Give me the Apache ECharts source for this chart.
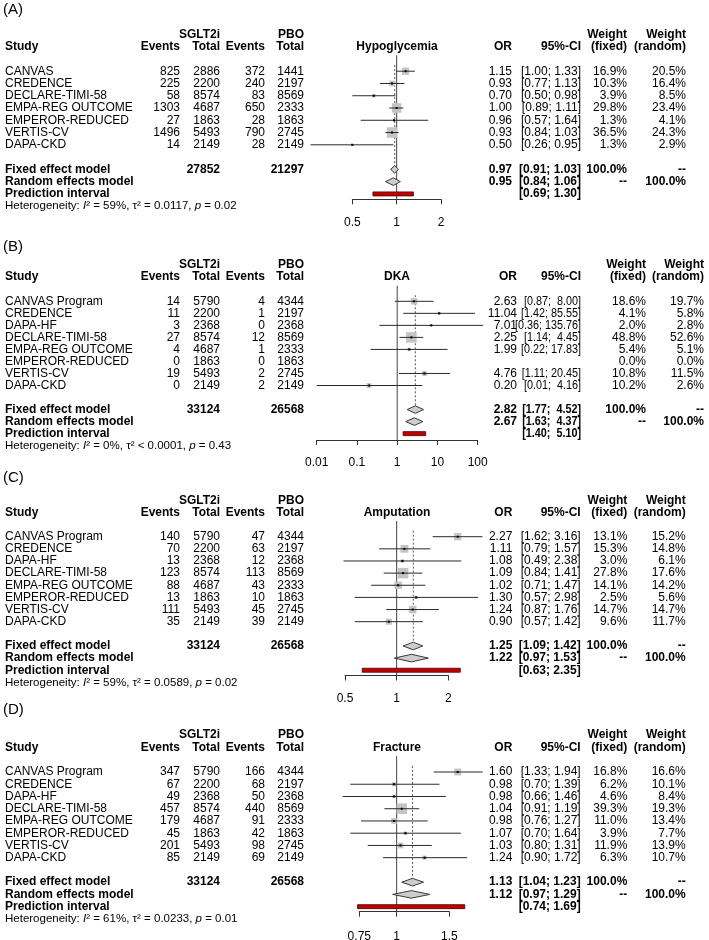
<!DOCTYPE html>
<html><head><meta charset="utf-8">
<script src="https://cdn.jsdelivr.net/npm/echarts@6/dist/echarts.min.js"></script>
<style>html,body{margin:0;padding:0;background:#fff}#c{width:709px;height:940px}</style>
</head><body><div id="c"></div>
<script>
// ---------------- DATA ----------------
// Panel A – Hypoglycemia
const studyA = ["CANVAS","CREDENCE","DECLARE-TIMI-58","EMPA-REG OUTCOME","EMPEROR-REDUCED","VERTIS-CV","DAPA-CKD"];
const evSA = [825,225,58,1303,27,1496,14];
const totSA = [2886,2200,8574,4687,1863,5493,2149];
const evPA = [372,240,83,650,28,790,28];
const totPA = [1441,2197,8569,2333,1863,2745,2149];
const orA = [1.15,0.93,0.70,1.00,0.96,0.93,0.50];
const loA = [1.00,0.77,0.50,0.89,0.57,0.84,0.26];
const hiA = [1.33,1.13,0.98,1.11,1.64,1.03,0.95];
const wfA = [16.9,10.3,3.9,29.8,1.3,36.5,1.3];
const wrA = [20.5,16.4,8.5,23.4,4.1,24.3,2.9];
const sumA = [27852,21297];
const fixA = [0.97,0.91,1.03];
const ranA = [0.95,0.84,1.06];
const predA = [0.69,1.30];
const hetA = ["59%","= 0.0117","0.02"];
const ticksA = [0.5,1,2];

// Shared for B, C, D
const studyBCD = ["CANVAS Program","CREDENCE","DAPA-HF","DECLARE-TIMI-58","EMPA-REG OUTCOME","EMPEROR-REDUCED","VERTIS-CV","DAPA-CKD"];
const totSBCD = [5790,2200,2368,8574,4687,1863,5493,2149];
const totPBCD = [4344,2197,2368,8569,2333,1863,2745,2149];
const sumBCD = [33124,26568];

// Panel B – DKA
const evSB = [14,11,3,27,4,0,19,0];
const evPB = [4,1,0,12,1,0,2,2];
const orB = [2.63,11.04,7.01,2.25,1.99,null,4.76,0.20];
const loB = [0.87,1.42,0.36,1.14,0.22,null,1.11,0.01];
const hiB = [8.00,85.55,135.76,4.45,17.83,null,20.45,4.16];
const wfB = [18.6,4.1,2.0,48.8,5.4,0.0,10.8,10.2];
const wrB = [19.7,5.8,2.8,52.6,5.1,0.0,11.5,2.6];
const fixB = [2.82,1.77,4.52];
const ranB = [2.67,1.63,4.37];
const predB = [1.40,5.10];
const hetB = ["0%","< 0.0001","0.43"];
const ticksB = [0.01,0.1,1,10,100];

// Panel C – Amputation
const evSC = [140,70,13,123,88,13,111,35];
const evPC = [47,63,12,113,43,10,45,39];
const orC = [2.27,1.11,1.08,1.09,1.02,1.30,1.24,0.90];
const loC = [1.62,0.79,0.49,0.84,0.71,0.57,0.87,0.57];
const hiC = [3.16,1.57,2.38,1.41,1.47,2.98,1.76,1.42];
const wfC = [13.1,15.3,3.0,27.8,14.1,2.5,14.7,9.6];
const wrC = [15.2,14.8,6.1,17.6,14.2,5.6,14.7,11.7];
const fixC = [1.25,1.09,1.42];
const ranC = [1.22,0.97,1.53];
const predC = [0.63,2.35];
const hetC = ["59%","= 0.0589","0.02"];
const ticksC = [0.5,1,2];

// Panel D – Fracture
const evSD = [347,67,49,457,179,45,201,85];
const evPD = [166,68,50,440,91,42,98,69];
const orD = [1.60,0.98,0.98,1.04,0.98,1.07,1.03,1.24];
const loD = [1.33,0.70,0.66,0.91,0.76,0.70,0.80,0.90];
const hiD = [1.94,1.39,1.46,1.19,1.27,1.64,1.31,1.72];
const wfD = [16.8,6.2,4.6,39.3,11.0,3.9,11.9,6.3];
const wrD = [16.6,10.1,8.4,19.3,13.4,7.7,13.9,10.7];
const fixD = [1.13,1.04,1.23];
const ranD = [1.12,0.97,1.29];
const predD = [0.74,1.69];
const hetD = ["61%","= 0.0233","0.01"];
const ticksD = [0.75,1,1.5];

const letters = ["(A)","(B)","(C)","(D)"];
const outcomes = ["Hypoglycemia","DKA","Amputation","Fracture"];
const refOR = 1;

// ---------------- ASSEMBLY ----------------
const panels = [
  {study:studyA, evS:evSA, totS:totSA, evP:evPA, totP:totPA, or:orA, lo:loA, hi:hiA, wf:wfA, wr:wrA, sum:sumA, fix:fixA, ran:ranA, pred:predA, het:hetA, ticks:ticksA},
  {study:studyBCD, evS:evSB, totS:totSBCD, evP:evPB, totP:totPBCD, or:orB, lo:loB, hi:hiB, wf:wfB, wr:wrB, sum:sumBCD, fix:fixB, ran:ranB, pred:predB, het:hetB, ticks:ticksB},
  {study:studyBCD, evS:evSC, totS:totSBCD, evP:evPC, totP:totPBCD, or:orC, lo:loC, hi:hiC, wf:wfC, wr:wrC, sum:sumBCD, fix:fixC, ran:ranC, pred:predC, het:hetC, ticks:ticksC},
  {study:studyBCD, evS:evSD, totS:totSBCD, evP:evPD, totP:totPBCD, or:orD, lo:loD, hi:hiD, wf:wfD, wr:wrD, sum:sumBCD, fix:fixD, ran:ranD, pred:predD, het:hetD, ticks:ticksD}
];

// layout (pixels)
const layout = [
  {letterY:10,  sgltY:35,    headY:47,    y0:71.2,  rowH:12.27, axisY:199.3, x0px:352.3, x1px:441,   orX:512,   ciX:581,   wfX:627,   wrX:686,   lblM:17, ciSx:1,   hiW:4},
  {letterY:247, sgltY:265,   headY:277,   y0:301.3, rowH:12.03, axisY:440,   x0px:316.7, x1px:477.7, orX:517,   ciX:581,   wfX:646,   wrX:704,   lblM:17, ciSx:0.9, hiW:5},
  {letterY:478, sgltY:500.5, headY:512.5, y0:536.7, rowH:12.14, axisY:675.5, x0px:345,   x1px:448.3, orX:512.3, ciX:580.7, wfX:627.3, wrX:685.7, lblM:17, ciSx:1,   hiW:4},
  {letterY:710, sgltY:734.7, headY:748,   y0:772,   rowH:12.24, axisY:911.7, x0px:359.3, x1px:449.3, orX:512.3, ciX:580.7, wfX:627.3, wrX:685.7, lblM:19, ciSx:1,   hiW:4}
];
const colX = {study:5, evS:180, totS:220, evP:265, totP:304, title:397};
const FONT = '"Liberation Sans", Arial, Helvetica, sans-serif';

function txt(x, y, s, align, bold, size, sx) {
  const el = {type:'text', x:x, y:y, silent:true, z:10,
    style:{text:s, fill:'#000', font:(bold?'bold ':'') + (size||12) + 'px ' + FONT,
      align:align||'left', verticalAlign:'middle'}};
  if (sx && sx !== 1) { el.scaleX = sx; el.originX = 0; el.originY = 0; }
  return el;
}
function pad(s, w) { while (s.length < w) s = ' ' + s; return s; }
function fmtTick(v) { return String(parseFloat(Math.pow(10, v).toPrecision(3))); }

const grids=[], xAxes=[], yAxes=[], series=[], graphics=[];
const L10 = Math.log10;

panels.forEach((p, k) => {
  const L = layout[k];
  const nS = p.study.length;
  const fixedRow = nS + 1, randRow = nS + 2, predRow = nS + 3, hetRow = nS + 4;
  const axisRow = (L.axisY - L.y0) / L.rowH;
  const top = L.y0 - 2 * L.rowH;
  const ry = r => L.y0 + r * L.rowH;

  grids.push({left:L.x0px, top:top, width:L.x1px - L.x0px, height:L.axisY - top, containLabel:false, outerBoundsMode:'none'});
  const tv = p.ticks.map(L10);
  xAxes.push({type:'value', gridIndex:k, min:L10(p.ticks[0]), max:L10(p.ticks[p.ticks.length-1]),
    position:'bottom', splitLine:{show:false},
    axisLine:{show:true, onZero:false, lineStyle:{color:'#333', width:1}},
    axisTick:{show:true, inside:false, length:5, customValues:tv, lineStyle:{color:'#333', width:1}},
    axisLabel:{show:true, customValues:tv, formatter:fmtTick, color:'#000', fontFamily:FONT, fontSize:12, margin:L.lblM}});
  yAxes.push({type:'value', gridIndex:k, min:-2, max:axisRow, inverse:true, show:false});

  const base = {type:'custom', xAxisIndex:k, yAxisIndex:k, clip:false, silent:true, animation:false, encode:{x:0, y:1}};

  // reference line at OR = 1
  series.push(Object.assign({}, base, {data:[[L10(refOR), -1.3, axisRow]],
    renderItem:(params, api) => {
      const a = api.coord([api.value(0), api.value(1)]), b = api.coord([api.value(0), api.value(2)]);
      return {type:'line', shape:{x1:a[0], y1:a[1], x2:b[0], y2:b[1]}, style:{stroke:'#444', lineWidth:1}};
    }}));
  // dotted fixed-effect line
  series.push(Object.assign({}, base, {data:[[L10(p.fix[0]), -0.5, fixedRow - 0.3]],
    renderItem:(params, api) => {
      const a = api.coord([api.value(0), api.value(1)]), b = api.coord([api.value(0), api.value(2)]);
      return {type:'line', shape:{x1:a[0], y1:a[1], x2:b[0], y2:b[1]}, style:{stroke:'#555', lineWidth:1, lineDash:[2,2]}};
    }}));
  // studies
  const wmax = Math.max.apply(null, p.wf);
  const sdata = [];
  p.or.forEach((o, i) => { if (o != null) sdata.push([L10(o), i, L10(p.lo[i]), L10(p.hi[i]), p.wf[i]]); });
  series.push(Object.assign({}, base, {data:sdata, z:3,
    renderItem:(params, api) => {
      const r = api.value(1);
      const pO = api.coord([api.value(0), r]), pL = api.coord([api.value(2), r]), pH = api.coord([api.value(3), r]);
      const s = Math.max(1.5, 10.5 * Math.sqrt(api.value(4) / wmax));
      return {type:'group', children:[
        {type:'rect', shape:{x:pO[0]-s/2, y:pO[1]-s/2, width:s, height:s}, style:{fill:'#c4c4c4'}},
        {type:'line', shape:{x1:pL[0], y1:pL[1], x2:pH[0], y2:pH[1]}, style:{stroke:'#2a2a2a', lineWidth:1}},
        {type:'rect', shape:{x:pO[0]-1, y:pO[1]-1, width:2, height:2}, style:{fill:'#000'}}
      ]};
    }}));
  // diamonds
  series.push(Object.assign({}, base, {z:3,
    data:[[L10(p.fix[0]), fixedRow, L10(p.fix[1]), L10(p.fix[2])], [L10(p.ran[0]), randRow, L10(p.ran[1]), L10(p.ran[2])]],
    renderItem:(params, api) => {
      const r = api.value(1);
      const c = api.coord([api.value(0), r]), l = api.coord([api.value(2), r]), h = api.coord([api.value(3), r]);
      const d = 3.8;
      return {type:'polygon', shape:{points:[[l[0], c[1]], [c[0], c[1]-d], [h[0], c[1]], [c[0], c[1]+d]]},
        style:{fill:'#cdcdcd', stroke:'#3a3a3a', lineWidth:1}};
    }}));
  // prediction interval
  series.push(Object.assign({}, base, {z:3,
    data:[[L10(p.pred[0]), predRow, L10(p.pred[1])]],
    renderItem:(params, api) => {
      const r = api.value(1);
      const a = api.coord([api.value(0), r]), b = api.coord([api.value(2), r]);
      return {type:'rect', shape:{x:a[0], y:a[1]-2, width:b[0]-a[0], height:4},
        style:{fill:'#c00000', stroke:'#4a0000', lineWidth:0.8}};
    }}));

  // ---------- texts ----------
  graphics.push(txt(3, L.letterY, letters[k], 'left', false, 15));
  graphics.push(txt(colX.totS, L.sgltY, 'SGLT2i', 'right', true));
  graphics.push(txt(colX.totP, L.sgltY, 'PBO', 'right', true));
  graphics.push(txt(colX.study, L.headY, 'Study', 'left', true));
  graphics.push(txt(colX.evS, L.headY, 'Events', 'right', true));
  graphics.push(txt(colX.totS, L.headY, 'Total', 'right', true));
  graphics.push(txt(colX.evP, L.headY, 'Events', 'right', true));
  graphics.push(txt(colX.totP, L.headY, 'Total', 'right', true));
  graphics.push(txt(colX.title, L.headY, outcomes[k], 'center', true));
  graphics.push(txt(L.orX, L.headY, 'OR', 'right', true));
  graphics.push(txt(L.ciX, L.headY, '95%-CI', 'right', true));
  graphics.push(txt(L.wfX, L.sgltY, 'Weight', 'right', true));
  graphics.push(txt(L.wfX, L.headY, '(fixed)', 'right', true));
  graphics.push(txt(L.wrX, L.sgltY, 'Weight', 'right', true));
  graphics.push(txt(L.wrX, L.headY, '(random)', 'right', true));

  const ci = (a, b) => '[' + a.toFixed(2) + '; ' + pad(b.toFixed(2), L.hiW) + ']';
  const sx = L.ciSx;

  p.study.forEach((s, i) => {
    const y = ry(i);
    graphics.push(txt(colX.study, y, s, 'left'));
    graphics.push(txt(colX.evS, y, String(p.evS[i]), 'right'));
    graphics.push(txt(colX.totS, y, String(p.totS[i]), 'right'));
    graphics.push(txt(colX.evP, y, String(p.evP[i]), 'right'));
    graphics.push(txt(colX.totP, y, String(p.totP[i]), 'right'));
    if (p.or[i] != null) {
      graphics.push(txt(L.orX, y, p.or[i].toFixed(2), 'right'));
      graphics.push(txt(L.ciX, y, ci(p.lo[i], p.hi[i]), 'right', false, 12, sx));
    }
    graphics.push(txt(L.wfX, y, p.wf[i].toFixed(1) + '%', 'right'));
    graphics.push(txt(L.wrX, y, p.wr[i].toFixed(1) + '%', 'right'));
  });
  const yF = ry(fixedRow), yR = ry(randRow), yP = ry(predRow), yH = ry(hetRow);
  graphics.push(txt(colX.study, yF, 'Fixed effect model', 'left', true));
  graphics.push(txt(colX.totS, yF, String(p.sum[0]), 'right', true));
  graphics.push(txt(colX.totP, yF, String(p.sum[1]), 'right', true));
  graphics.push(txt(L.orX, yF, p.fix[0].toFixed(2), 'right', true));
  graphics.push(txt(L.ciX, yF, ci(p.fix[1], p.fix[2]), 'right', true, 12, sx));
  graphics.push(txt(L.wfX, yF, '100.0%', 'right', true));
  graphics.push(txt(L.wrX, yF, '--', 'right', true));
  graphics.push(txt(colX.study, yR, 'Random effects model', 'left', true));
  graphics.push(txt(L.orX, yR, p.ran[0].toFixed(2), 'right', true));
  graphics.push(txt(L.ciX, yR, ci(p.ran[1], p.ran[2]), 'right', true, 12, sx));
  graphics.push(txt(L.wfX, yR, '--', 'right', true));
  graphics.push(txt(L.wrX, yR, '100.0%', 'right', true));
  graphics.push(txt(colX.study, yP, 'Prediction interval', 'left', true));
  graphics.push(txt(L.ciX, yP, ci(p.pred[0], p.pred[1]), 'right', true, 12, sx));
  const hs = 11.5;
  graphics.push({type:'text', x:colX.study, y:yH, silent:true, z:10,
    style:{text:'{n|Heterogeneity: }{i|I}{n|\u00b2 = ' + p.het[0] + ', \u03c4\u00b2 ' + p.het[1] + ', }{i|p}{n| = ' + p.het[2] + '}',
      font: hs + 'px ' + FONT, fill:'#000', align:'left', verticalAlign:'middle',
      rich:{n:{fontFamily:FONT, fontSize:hs, fill:'#000'}, i:{fontFamily:FONT, fontSize:hs, fontStyle:'italic', fill:'#000'}}}});
});

const chart = echarts.init(document.getElementById('c'), null, {renderer:'canvas', width:709, height:940});
chart.setOption({
  animation:false,
  backgroundColor:'#fff',
  grid:grids, xAxis:xAxes, yAxis:yAxes, series:series,
  graphic:{elements:graphics}
});
</script></body></html>
